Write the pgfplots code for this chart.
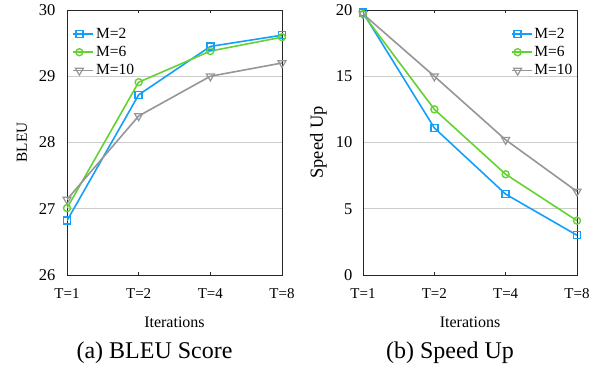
\documentclass[border=0pt]{standalone}
\usepackage{pgfplots}
\pgfplotsset{compat=1.18}
\usepackage{fontspec}
\setmainfont{Liberation Serif}
\definecolor{cb}{RGB}{20,160,250}
\definecolor{cg}{RGB}{100,210,50}
\definecolor{cgr}{RGB}{150,150,150}
\pgfplotsset{
  base/.style={
    scale only axis,
    anchor=south west,
    height=265pt,
    xmin=0, xmax=3,
    xtick={0,1,2,3},
    xticklabels={T=1,T=2,T=4,T=8},
    ymajorgrids,
    grid style={gray!40, line width=0.7pt},
    axis line style={black!85, line width=0.8pt},
    tick align=inside,
    major tick length=3pt,
    ytick style={draw=none},
    xtick style={black!85, line width=0.8pt},
    xticklabel style={font=\fontsize{15}{17}\selectfont, anchor=north, text height=10pt, text depth=2pt, yshift=-9.5pt},
    yticklabel style={font=\fontsize{16.5}{18}\selectfont},
    /pgf/number format/assume math mode=true,
    xlabel style={font=\fontsize{16}{18}\selectfont, at={(axis description cs:0.5,-0.177)}, anchor=center},
    xlabel={Iterations},
    legend style={draw=none, fill=none, font=\fontsize{15.5}{17}\selectfont, inner sep=0pt, row sep=2.5pt, legend cell align=left},
    legend image code/.code={\path (0pt,0pt) -- (20pt,0pt); \draw (1pt,0pt) -- (11pt,0pt); \draw plot[mark repeat=1] coordinates {(6pt,0pt)};},
    every axis plot/.append style={line width=1.6pt},
  },
  s2/.style={cb, mark=square, mark size=3.5pt, mark options={fill=white, line width=1.4pt}},
  s6/.style={cg, mark=o, mark size=3.5pt, mark options={fill=white, line width=1.4pt}},
  s10/.style={cgr, mark=triangle, mark size=4.6pt, mark options={fill=white, rotate=180, line width=1.2pt}},
}
\begin{document}
\begin{tikzpicture}[x=1pt,y=1pt]
\useasboundingbox (0,0) rectangle (600,370);
\begin{axis}[base, at={(67pt,95pt)}, width=215pt,
  ymin=26, ymax=30, ytick={26,27,28,29,30},
  yticklabel style={xshift=-8pt},
  ylabel={BLEU},
  ylabel style={font=\fontsize{15.3}{17}\selectfont, at={(axis description cs:-0.209,0.5)}, anchor=center},
  legend style={at={(0.025,0.94)}, anchor=north west}]
\addplot[s2] coordinates {(0,26.82) (1,28.72) (2,29.45) (3,29.62)};
\addplot[s6] coordinates {(0,27.01) (1,28.91) (2,29.38) (3,29.59)};
\addplot[s10] coordinates {(0,27.14) (1,28.40) (2,29.00) (3,29.20)};
\legend{M=2,M=6,M=10}
\end{axis}
\begin{axis}[base, at={(363pt,95pt)}, width=214pt,
  ymin=0, ymax=20, ytick={0,5,10,15,20},
  yticklabel style={xshift=-7pt},
  ylabel={Speed Up},
  ylabel style={font=\fontsize{18.5}{20}\selectfont, at={(axis description cs:-0.208,0.5)}, anchor=center},
  legend style={at={(0.69,0.94)}, anchor=north west}]
\addplot[s2] coordinates {(0,19.8) (1,11.1) (2,6.1) (3,3.0)};
\addplot[s6] coordinates {(0,19.7) (1,12.5) (2,7.6) (3,4.1)};
\addplot[s10] coordinates {(0,19.7) (1,15.0) (2,10.2) (3,6.3)};
\legend{M=2,M=6,M=10}
\end{axis}
\node[font=\fontsize{24}{26}\selectfont] at (154.5,17) {(a) BLEU Score};
\node[font=\fontsize{24}{26}\selectfont] at (450,17) {(b) Speed Up};
\end{tikzpicture}
\end{document}
